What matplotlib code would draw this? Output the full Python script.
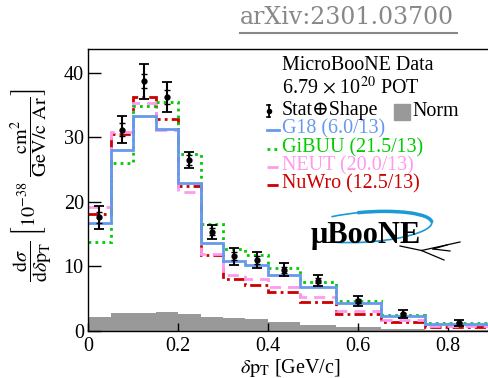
# MicroBooNE differential cross section in delta pT, data vs generator predictions.
import numpy as np
import matplotlib
matplotlib.use("Agg")
import matplotlib.pyplot as plt
from matplotlib.patches import Arc
from matplotlib.lines import Line2D

plt.rcParams['font.family'] = ['Liberation Serif', 'DejaVu Serif']
plt.rcParams['mathtext.fontset'] = 'stix'

# bin edges in delta pT [GeV/c]
edges = [0, 0.05, 0.1, 0.15, 0.2, 0.25, 0.3, 0.35, 0.4, 0.47, 0.55, 0.65, 0.75, 0.9]
data = [17.6, 31.2, 38.7, 36.3, 26.5, 15.4, 11.6, 11.0, 9.5, 7.8, 4.65, 2.6, 1.2]
err_tot = [1.75, 2.1, 2.75, 2.3, 1.2, 1.1, 1.3, 1.2, 1.0, 0.9, 0.7, 0.6, 0.5]
err_stat = [0.9, 1.0, 1.05, 1.1, 0.8, 0.6, 0.6, 0.6, 0.45, 0.4, 0.3, 0.25, 0.2]
g18 = [16.8, 28.0, 33.3, 31.3, 23.0, 13.7, 10.85, 10.3, 8.65, 6.8, 4.4, 2.35, 1.1]
gibuu = [13.85, 26.1, 34.9, 35.45, 27.4, 16.6, 12.7, 11.8, 9.7, 7.65, 4.7, 2.55, 1.3]
neut = [19.2, 30.9, 35.4, 31.2, 21.6, 11.9, 8.7, 8.0, 6.85, 5.2, 3.1, 1.7, 0.8]
nuwro = [18.1, 30.5, 36.3, 32.8, 22.5, 11.8, 8.06, 7.1, 6.0, 4.55, 2.7, 1.4, 0.6]
norm = [2.1, 2.85, 2.85, 2.95, 2.65, 2.1, 1.95, 1.8, 1.4, 0.95, 0.6, 0.35, 0.2]

models = [
    ("G18 (6.0/13)", g18, '#6699ee', '-'),
    ("GiBUU (21.5/13)", gibuu, '#00cc00', (0, (1, 1.5))),
    ("NEUT (20.0/13)", neut, '#ff99ee', (0, (4, 2.5))),
    ("NuWro (12.5/13)", nuwro, '#cc0000', (0, (4, 1.5, 1, 1.5))),
]

W, H = 489, 378
fig = plt.figure(figsize=(W / 100, H / 100), dpi=100)
ax = fig.add_axes([88 / W, (H - 331) / H, (493 - 88) / W, (331 - 49) / H])

centers = 0.5 * (np.array(edges[1:]) + np.array(edges[:-1]))

ax.stairs(norm, edges, fill=True, color='#999999', lw=0, zorder=1)
for name, vals, col, ls in models[::-1]:
    ax.stairs(vals, edges, baseline=None, color=col, lw=2, linestyle=ls, zorder=2)

ax.errorbar(centers, data, yerr=err_tot, fmt='o', color='black', ms=3.5,
            elinewidth=1.5, capsize=3.5, capthick=1.3, zorder=4)
ax.errorbar(centers, data, yerr=err_stat, fmt='none', color='black',
            elinewidth=0, capsize=2.5, capthick=1.0, zorder=4)

ax.set_xlim(0, 0.9)
ax.set_ylim(0, 43.7)
ax.set_xticks([0, 0.2, 0.4, 0.6, 0.8])
ax.set_xticklabels(["0", "0.2", "0.4", "0.6", "0.8"])
ax.set_yticks([0, 10, 20, 30, 40])
ax.set_yticklabels(["0", "10", "20", "30", "40"])
ax.tick_params(axis='y', direction='in', length=9, width=1, labelsize=14.5, pad=3)
ax.tick_params(axis='x', direction='in', length=6, width=1, labelsize=14.5, pad=4)
for s in ax.spines.values():
    s.set_linewidth(1)
ax.spines['right'].set_visible(False)

ax.set_xlabel(r'$\delta\mathrm{p}_{\mathrm{T}}$ [GeV/c]', fontsize=14.5, labelpad=1)
fig.text(32 / W, (H - 185) / H,
         r'$\dfrac{\mathrm{d}\sigma}{\mathrm{d}\delta \mathrm{p}_{\mathrm{T}}}\ '
         r'\left[10^{-38}\ \dfrac{\mathrm{cm}^{2}}{\mathrm{GeV/c\ Ar}}\right]$',
         rotation=90, ha='center', va='center', fontsize=14.5)

# legend, drawn by hand in figure pixels
def fx(px):
    return px / W

def fy(py):
    return (H - py) / H

fig.text(fx(282), fy(66), "MicroBooNE Data", fontsize=14.4, va='center')
fig.text(fx(282), fy(88), r'6.79 $\times$ 10$^{20}$ POT', fontsize=14.4, va='center')
fig.text(fx(282), fy(111), "Stat\u2295Shape", fontsize=14.4, va='center')
fig.add_artist(Line2D([fx(268.5), fx(268.5)], [fy(105), fy(117)], color='black', lw=1.3))
fig.add_artist(Line2D([fx(266.5), fx(270.5)], [fy(105), fy(105)], color='black', lw=1.2))
fig.add_artist(Line2D([fx(266.5), fx(270.5)], [fy(117), fy(117)], color='black', lw=1.2))
fig.add_artist(Line2D([fx(268.5)], [fy(111)], marker='o', ms=3, color='black'))
fig.patches.append(plt.Rectangle((fx(394), fy(120)), fx(16), 16 / H, color='#999999',
                                 transform=fig.transFigure, figure=fig))
fig.text(fx(412), fy(111), "Norm", fontsize=14.4, va='center')
ys = [129, 147.5, 166, 184]
for (name, vals, col, ls), yy in zip(models, ys):
    fig.add_artist(Line2D([fx(267), fx(279)], [fy(yy + 1), fy(yy + 1)], color=col, lw=2, linestyle=ls))
    fig.text(fx(282), fy(yy), name, fontsize=14.4, va='center', color=col)

# uBooNE logo
inch = fig.dpi_scale_trans
fig.add_artist(Arc((367 / 100, (H - 227) / 100), 1.30, 0.30, angle=4, theta1=200, theta2=520,
                   color='#1a9ad6', lw=1.2, transform=inch))
fig.add_artist(Arc((367 / 100, (H - 227) / 100), 1.30, 0.30, angle=4, theta1=0, theta2=120,
                   color='#1a9ad6', lw=2.5, transform=inch))
fig.text(fx(366), fy(236), "\u03bcBooNE", fontsize=22, fontweight='bold', ha='center',
         va='center', color='black')
for x2, y2 in [(460, 242), (444, 260), (400, 246)]:
    fig.add_artist(Line2D([fx(421.5), fx(x2)], [fy(250.5), fy(y2)], color='black', lw=0.9))
for x2, y2 in [(447, 245), (450, 251)]:
    fig.add_artist(Line2D([fx(433), fx(x2)], [fy(249), fy(y2)], color='black', lw=0.9))

# arXiv tag
fig.text(fx(240), fy(18), "arXiv:2301.03700", fontsize=17, family='DejaVu Serif',
         color='#888888', va='center')
fig.add_artist(Line2D([fx(240), fx(457)], [fy(33), fy(33)], color='#888888', lw=1.5))

fig.savefig("out.png", dpi=100)
